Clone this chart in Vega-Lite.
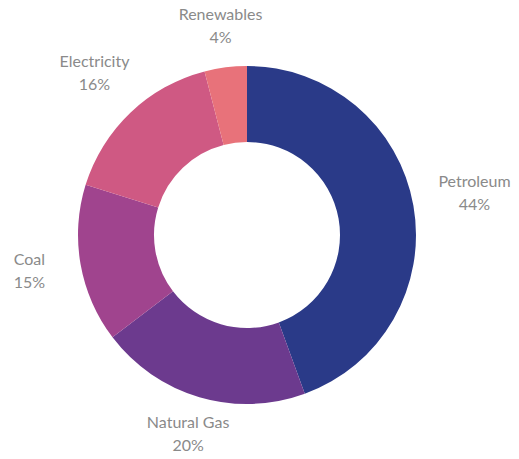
{
  "$schema": "https://vega.github.io/schema/vega-lite/v6.json",
  "autosize": "none",
  "width": 480,
  "height": 440,
  "padding": {"left": 7, "top": 15, "right": 32, "bottom": 4},
  "background": "white",
  "view": {"stroke": null},
  "data": {
    "values": [
      {"source": "Petroleum", "value": 44, "label": "44%", "rank": 1},
      {"source": "Natural Gas", "value": 20, "label": "20%", "rank": 2},
      {"source": "Coal", "value": 15, "label": "15%", "rank": 3},
      {"source": "Electricity", "value": 16, "label": "16%", "rank": 4},
      {"source": "Renewables", "value": 4, "label": "4%", "rank": 5}
    ]
  },
  "encoding": {
    "theta": {"field": "value", "type": "quantitative", "stack": true},
    "order": {"field": "rank", "type": "quantitative"}
  },
  "layer": [
    {
      "mark": {"type": "arc", "outerRadius": 169, "innerRadius": 93},
      "encoding": {
        "color": {
          "field": "source",
          "type": "nominal",
          "legend": null,
          "scale": {
            "domain": ["Petroleum", "Natural Gas", "Coal", "Electricity", "Renewables"],
            "range": ["#2a3a88", "#6c3a8e", "#a0448e", "#cf5983", "#e8727a"]
          }
        }
      }
    },
    {
      "mark": {"type": "text", "radius": 231, "dy": -13, "font": "Lato", "fontSize": 16, "letterSpacing": 1, "color": "#8a8a8a", "align": "center", "baseline": "middle"},
      "encoding": {"text": {"condition": {"test": "datum.source === 'Petroleum'", "field": "source"}, "value": ""}}
    },
    {
      "mark": {"type": "text", "radius": 231, "dy": 10, "font": "Lato", "fontSize": 16, "letterSpacing": 1, "color": "#8a8a8a", "align": "center", "baseline": "middle"},
      "encoding": {"text": {"condition": {"test": "datum.source === 'Petroleum'", "field": "label"}, "value": ""}}
    },
    {
      "mark": {"type": "text", "radius": 221, "dy": -13, "font": "Lato", "fontSize": 16, "letterSpacing": 1, "color": "#8a8a8a", "align": "center", "baseline": "middle"},
      "encoding": {"text": {"condition": {"test": "datum.source === 'Coal' || datum.source === 'Electricity'", "field": "source"}, "value": ""}}
    },
    {
      "mark": {"type": "text", "radius": 221, "dy": 10, "font": "Lato", "fontSize": 16, "letterSpacing": 1, "color": "#8a8a8a", "align": "center", "baseline": "middle"},
      "encoding": {"text": {"condition": {"test": "datum.source === 'Coal' || datum.source === 'Electricity'", "field": "label"}, "value": ""}}
    },
    {
      "mark": {"type": "text", "radius": 209, "dy": -13, "font": "Lato", "fontSize": 16, "letterSpacing": 1, "color": "#8a8a8a", "align": "center", "baseline": "middle"},
      "encoding": {"text": {"condition": {"test": "datum.source === 'Natural Gas' || datum.source === 'Renewables'", "field": "source"}, "value": ""}}
    },
    {
      "mark": {"type": "text", "radius": 209, "dy": 10, "font": "Lato", "fontSize": 16, "letterSpacing": 1, "color": "#8a8a8a", "align": "center", "baseline": "middle"},
      "encoding": {"text": {"condition": {"test": "datum.source === 'Natural Gas' || datum.source === 'Renewables'", "field": "label"}, "value": ""}}
    }
  ]
}
